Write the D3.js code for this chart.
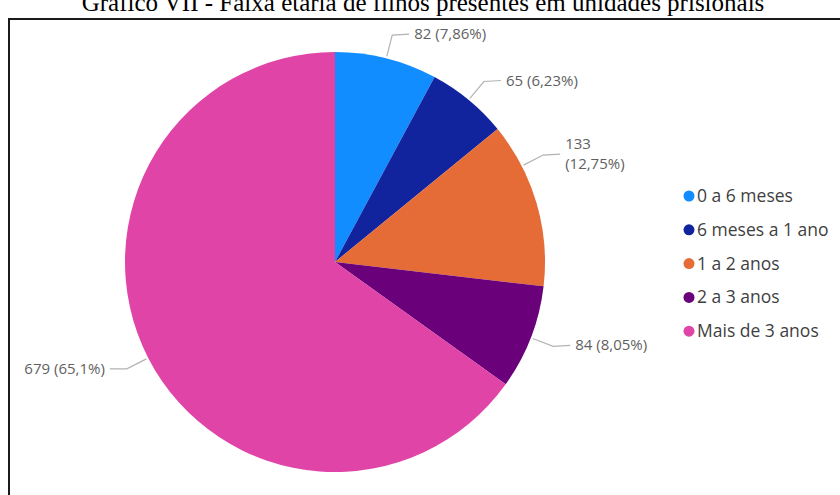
<!DOCTYPE html>
<html>
<head>
<meta charset="utf-8">
<script src="https://cdn.jsdelivr.net/npm/d3@7"></script>
<style>
  html, body { margin: 0; padding: 0; background: #fff; }
  svg { display: block; }
</style>
</head>
<body>
<svg id="chart" width="840" height="495"></svg>
<script>
// ---- data ----
const categories = ["0 a 6 meses", "6 meses a 1 ano", "1 a 2 anos", "2 a 3 anos", "Mais de 3 anos"];
const values = [82, 65, 133, 84, 679];
const percentLabels = ["7,86%", "6,23%", "12,75%", "8,05%", "65,1%"];
const colors = ["#118DFF", "#12239E", "#E66C37", "#6B007B", "#E044A7"];
const title = "Gráfico VII - Faixa etária de filhos presentes em unidades prisionais";

// ---- layout ----
const W = 840, H = 495;
const cx = 335, cy = 262, R = 210;
const labelAngleNudge = [0, 0, -0.19, 0, 0]; // leader start tweak (radians)

const svg = d3.select("#chart");

// title
svg.append("text")
  .attr("x", 423).attr("y", 11)
  .attr("text-anchor", "middle")
  .attr("font-family", "'Liberation Serif', 'Times New Roman', serif")
  .attr("font-size", 25)
  .attr("fill", "#000")
  .text(title);

// frame
svg.append("rect")
  .attr("x", 9).attr("y", 19)
  .attr("width", W + 20).attr("height", H)
  .attr("fill", "none")
  .attr("stroke", "#1a1a1a")
  .attr("stroke-width", 2);

const pie = d3.pie().sort(null).value(d => d)(values);
const arc = d3.arc().innerRadius(0).outerRadius(R);

const g = svg.append("g").attr("transform", `translate(${cx},${cy})`);
g.selectAll("path.slice")
  .data(pie)
  .join("path")
  .attr("class", "slice")
  .attr("d", arc)
  .attr("fill", (d, i) => colors[i]);

// labels with leader lines
const fontLbl = "'Segoe UI', 'Open Sans', 'Noto Sans', sans-serif";
pie.forEach((d, i) => {
  const a = (d.startAngle + d.endAngle) / 2 + labelAngleNudge[i];
  const p0 = [Math.sin(a) * (R + 2), -Math.cos(a) * (R + 2)];
  const p1 = [Math.sin(a) * (R + 24), -Math.cos(a) * (R + 24)];
  const right = Math.sin(a) >= 0;
  const p2 = [p1[0] + (right ? 17 : -17), p1[1] - (right ? 1 : 0)];
  g.append("polyline")
    .attr("points", [p0, p1, p2].map(p => p.join(",")).join(" "))
    .attr("fill", "none")
    .attr("stroke", "#b3b3b3")
    .attr("stroke-width", 1.2);
  const tx = p2[0] + (right ? 5 : -5);
  const t = g.append("text")
    .attr("x", tx)
    .attr("text-anchor", right ? "start" : "end")
    .attr("font-family", fontLbl)
    .attr("font-size", 15)
    .attr("fill", "#5f5f5f");
  if (i === 2) {
    t.append("tspan").attr("x", tx).attr("y", p2[1] - 5).text(values[i]);
    t.append("tspan").attr("x", tx).attr("y", p2[1] + 15).text(`(${percentLabels[i]})`);
  } else {
    t.attr("y", p2[1] + 5).text(`${values[i]} (${percentLabels[i]})`);
  }
});

// legend
const legend = svg.append("g").attr("transform", "translate(689,196)");
const items = legend.selectAll("g")
  .data(categories)
  .join("g")
  .attr("transform", (d, i) => `translate(0,${i * 33.8})`);
items.append("circle").attr("r", 5.5).attr("fill", (d, i) => colors[i]);
items.append("text")
  .attr("x", 8).attr("y", 6)
  .attr("font-family", fontLbl)
  .attr("font-size", 17.5)
  .attr("fill", "#3f3f3f")
  .text(d => d);
</script>
</body>
</html>
